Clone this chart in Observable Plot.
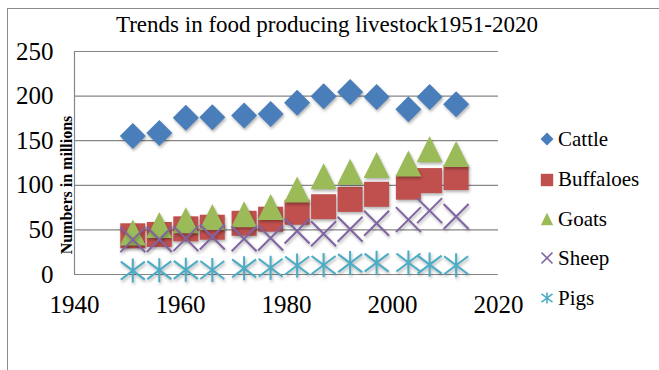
<!DOCTYPE html>
<html>
<head>
<meta charset="utf-8">
<script src="https://cdn.jsdelivr.net/npm/d3@7"></script>
<script src="https://cdn.jsdelivr.net/npm/@observablehq/plot@0.6"></script>
<style>
  html, body { margin: 0; padding: 0; background: #fff; }
  body { width: 659px; height: 370px; overflow: hidden; position: relative; font-family: "Liberation Serif", "Times New Roman", serif; }
  #frame { position: absolute; left: 7px; top: 8px; width: 700px; height: 400px; border-left: 1px solid #8a8a8a; border-top: 1px solid #8a8a8a; }
  #chart { position: absolute; left: 0; top: 0; }
  #chart svg, #chart svg text { font-family: "Liberation Serif", "Times New Roman", serif !important; }
  #chart svg g[aria-label="dot"] { filter: drop-shadow(1.5px 2px 1.5px rgba(0,0,0,0.3)); }
  #title { position: absolute; left: 0; width: 654px; top: 12px; text-align: center; font-size: 23px; color: #000; white-space: nowrap; font-family: "Liberation Serif", serif; }
  #ylabel { position: absolute; left: 66.5px; top: 185px; transform: translate(-50%, -50%) rotate(-90deg); font-size: 16px; font-weight: bold; white-space: nowrap; color: #000; font-family: "Liberation Serif", serif; }
  .leg { position: absolute; left: 540px; height: 24px; display: flex; align-items: center; font-size: 21px; color: #000; white-space: nowrap; font-family: "Liberation Serif", serif !important; }
  .leg span { font-family: "Liberation Serif", serif !important; }
  .leg svg { width: 14px; height: 14px; margin-right: 4px; overflow: visible; }
</style>
</head>
<body>
<div id="frame"></div>
<div id="chart"></div>
<div id="title">Trends in food producing livestock1951-2020</div>
<div id="ylabel">Numbers in millions</div>
<div id="legend"></div>
<script>
// ---- data ----
const years = [1951, 1956, 1961, 1966, 1972, 1977, 1982, 1987, 1992, 1997, 2003, 2007, 2012];
const cattle = [155.3, 158.7, 175.6, 176.2, 178.3, 180.0, 192.5, 199.7, 204.6, 198.9, 185.2, 199.1, 190.9];
const buffaloes = [43.4, 44.9, 51.2, 53.0, 57.4, 62.0, 69.8, 76.0, 84.2, 89.9, 97.9, 105.3, 108.7];
const goats = [47.2, 55.4, 60.9, 64.6, 67.5, 75.6, 95.3, 110.2, 115.3, 122.7, 124.4, 140.5, 135.2];
const sheep = [39.1, 39.3, 40.2, 42.0, 40.0, 41.0, 48.8, 45.7, 50.8, 57.5, 61.5, 71.6, 65.1];
const pigs = [4.4, 4.9, 5.2, 5.0, 6.9, 7.6, 10.1, 10.6, 12.8, 13.3, 13.5, 11.1, 10.3];
const seriesNames = ["Cattle", "Buffaloes", "Goats", "Sheep", "Pigs"];
const xTicks = [1940, 1960, 1980, 2000, 2020];
const yTicks = [0, 50, 100, 150, 200, 250];

// ---- styling ----
const colors = ["#4a7ebb", "#c0504d", "#9bbb59", "#8064a2", "#4bacc6"];
const rad = s => Math.sqrt(s / Math.PI);
const symDiamond = { draw(c, s) { const r = rad(s); c.moveTo(0, -r); c.lineTo(r, 0); c.lineTo(0, r); c.lineTo(-r, 0); c.closePath(); } };
const symSquare = { draw(c, s) { const r = rad(s); c.rect(-r, -r, 2 * r, 2 * r); } };
const symTriangle = { draw(c, s) { const r = rad(s); c.moveTo(0, -r); c.lineTo(r, r); c.lineTo(-r, r); c.closePath(); } };
const symTimes = { draw(c, s) { const r = rad(s); c.moveTo(-r, -r); c.lineTo(r, r); c.moveTo(r, -r); c.lineTo(-r, r); } };
const symStar = { draw(c, s) { const r = rad(s); c.moveTo(-r, -r * 0.75); c.lineTo(r, r * 0.75); c.moveTo(r, -r * 0.75); c.lineTo(-r, r * 0.75); c.moveTo(0, -r); c.lineTo(0, r); } };
const symbols = [symDiamond, symSquare, symTriangle, symTimes, symStar];
const filled = [true, true, true, false, false];
const radii = [13, 12.5, 13, 12.5, 12];
const legRadii = [6.5, 6.2, 6.2, 5.5, 5.5];

const allSeries = [cattle, buffaloes, goats, sheep, pigs];
const seriesData = allSeries.map(vals => years.map((yr, i) => ({ year: yr, value: vals[i] })));

const dotMarks = seriesData.map((data, k) => Plot.dot(data, {
  x: "year", y: "value", symbol: symbols[k], r: radii[k],
  fill: filled[k] ? colors[k] : "none",
  stroke: filled[k] ? "none" : colors[k],
  strokeWidth: filled[k] ? 0 : 2
}));

const chart = Plot.plot({
  width: 659, height: 370,
  marginLeft: 74, marginRight: 161, marginTop: 51, marginBottom: 96,
  style: { fontFamily: "'Liberation Serif', serif", background: "transparent", color: "#000", overflow: "visible" },
  x: { domain: [1940, 2020] },
  y: { domain: [0, 250] },
  marks: [
    Plot.ruleY(yTicks, { stroke: "#868686", strokeWidth: 1.2 }),
    Plot.ruleX([1940], { stroke: "#868686", strokeWidth: 1.2 }),
    Plot.axisY({ ticks: yTicks, tickSize: 0, tickPadding: 21, fontSize: 25, label: null }),
    Plot.axisX({ ticks: xTicks, tickSize: 0, tickPadding: 21, fontSize: 25, label: null, tickFormat: d => String(d) }),
    ...dotMarks
  ]
});
document.getElementById("chart").appendChild(chart);

// ---- legend ----
const legend = document.getElementById("legend");
const legY = [139, 179.5, 219, 258, 298];
seriesNames.forEach((name, k) => {
  const item = document.createElement("div");
  item.className = "leg";
  item.style.top = (legY[k] - 12) + "px";
  const svg = d3.create("svg").attr("viewBox", "-7 -7 14 14");
  const sz = Math.PI * legRadii[k] * legRadii[k];
  svg.append("path")
    .attr("d", d3.symbol(symbols[k], sz)())
    .attr("fill", filled[k] ? colors[k] : "none")
    .attr("stroke", filled[k] ? "none" : colors[k])
    .attr("stroke-width", filled[k] ? 0 : 1.6);
  item.appendChild(svg.node());
  const t = document.createElement("span");
  t.textContent = name;
  item.appendChild(t);
  legend.appendChild(item);
});
</script>
</body>
</html>
